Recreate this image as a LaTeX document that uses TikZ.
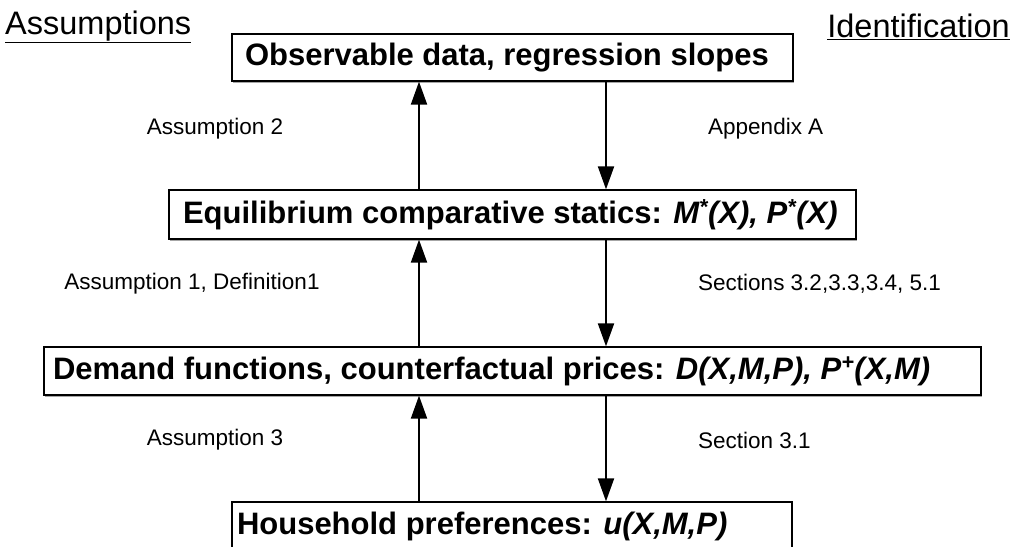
\documentclass[tikz,border=0pt]{standalone}
\usepackage{fontspec}
\setmainfont{Liberation Sans}
\usetikzlibrary{arrows.meta,shadows}
\newcommand{\boxtext}[3]{\makebox[#1][l]{\hspace*{#2}#3}}
\begin{document}
\begin{tikzpicture}[x=1pt,y=-1pt,
  box/.style={draw=black,line width=1.3pt,fill=white,inner sep=0pt,
    font=\fontsize{31}{34}\selectfont\bfseries,
    drop shadow={shadow xshift=1.2pt,shadow yshift=-1.5pt,fill=gray!70,opacity=1}},
  conn/.style={line width=2pt,-{Triangle[length=23pt,width=16pt]}},
  lbl/.style={font=\fontsize{22.5}{26}\selectfont,inner sep=0pt},
  hdr/.style={font=\fontsize{32.5}{36}\selectfont,inner sep=0pt}]
\useasboundingbox (0,0) rectangle (1016,546);
\clip (0,0) rectangle (1016,546);
\node[hdr,anchor=west] (hA) at (5,27) {\underline{Assumptions}};
\node[hdr,anchor=east] (hI) at (1010,27) {\underline{Identification}};
\node[box,minimum height=47pt] (b1) at (512.5,57.5) {\boxtext{561pt}{13pt}{Observable data, regression slopes}};
\node[box,minimum height=49pt] (b2) at (512.5,214.5) {\boxtext{687pt}{14pt}{Equilibrium comparative statics: \textit{M\textsuperscript{*}(X), P\textsuperscript{*}(X)}}};
\node[box,minimum height=48pt] (b3) at (512.5,371) {\boxtext{937pt}{9pt}{Demand functions, counterfactual prices: \textit{D(X,M,P), P\textsuperscript{+}(X,M)}}};
\node[box,minimum height=48pt] (b4) at (512,526) {\boxtext{560pt}{5pt}{Household preferences: \textit{u(X,M,P)}}};
\draw[conn] (b2.north -| 419,0) -- (b1.south -| 419,0);
\draw[conn] (b1.south -| 606,0) -- (b2.north -| 606,0);
\draw[conn] (b3.north -| 419,0) -- (b2.south -| 419,0);
\draw[conn] (b2.south -| 606,0) -- (b3.north -| 606,0);
\draw[conn] (b4.north -| 419,0) -- (b3.south -| 419,0);
\draw[conn] (b3.south -| 606,0) -- (b4.north -| 606,0);
\node[lbl] (l1) at (215,129) {Assumption 2};
\node[lbl,anchor=west] (r1) at (708,129) {Appendix A};
\node[lbl] (l2) at (192,284) {Assumption 1, Definition1};
\node[lbl,anchor=west] (r2) at (698,284) {Sections 3.2,3.3,3.4, 5.1};
\node[lbl] (l3) at (215,440) {Assumption 3};
\node[lbl,anchor=west] (r3) at (698,440) {Section 3.1};
\end{tikzpicture}
\end{document}
